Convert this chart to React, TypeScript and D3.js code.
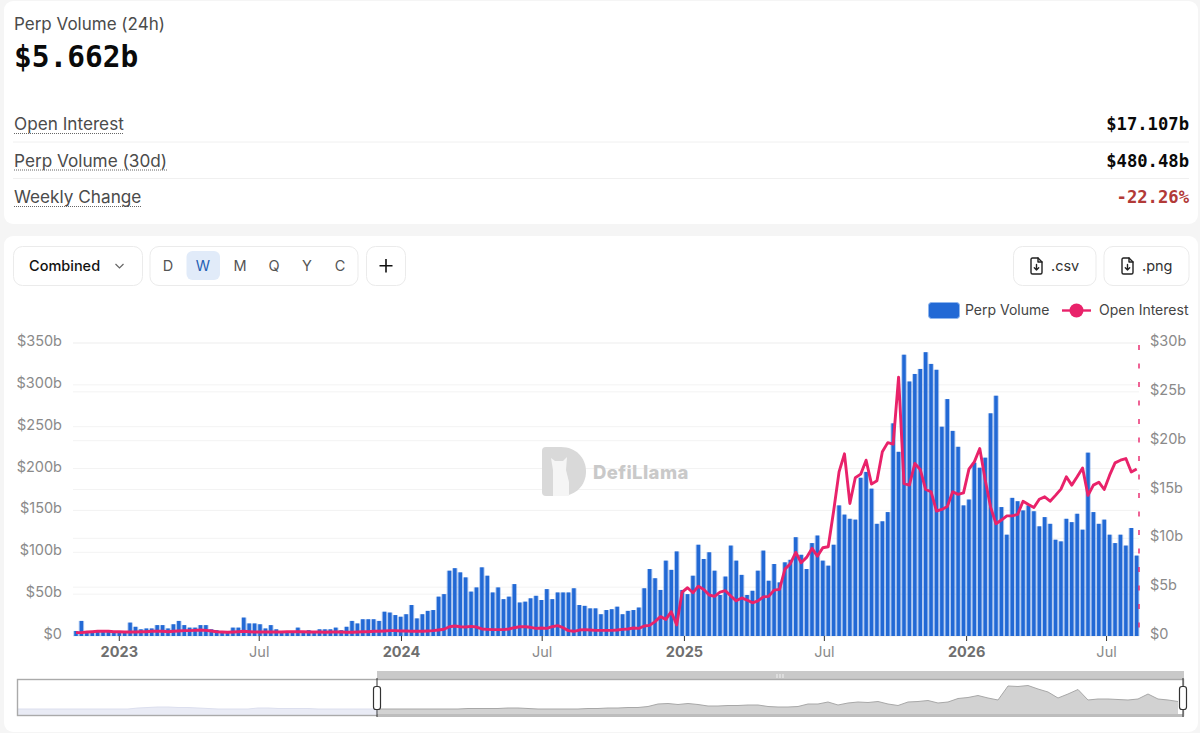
import React from 'react';
import * as d3 from 'd3';

// weekly perp volume in $b
const volumeWeekly = [
  6, 18, 5.5, 6, 6, 6, 7, 5, 5, 5, 16, 11, 8, 9, 9, 13, 13, 9, 14, 18, 13, 10, 10, 13, 13, 8, 7, 6, 5, 10, 10, 22, 15, 15, 14, 9,
  13, 8, 6, 6, 5, 10, 5, 7, 4, 8, 8, 8, 10, 7, 11, 18, 15, 20, 20, 20, 18, 29, 28, 25, 23, 26, 37, 21, 26, 30, 31, 47, 50,
  78, 81, 76, 70, 53, 58, 82, 72, 52, 58, 44, 47, 62, 40, 41, 45, 48, 43, 56, 44, 52, 52, 52, 57, 37, 36, 33, 33, 26, 31,
  32, 35, 26, 30, 31, 34, 57, 80, 69, 55, 90, 79, 101, 55, 50, 72,
  109, 92, 100, 78, 49, 71, 108, 90, 73, 49, 54, 78, 102, 66, 86, 64, 88, 91, 118, 97, 80, 111, 120, 90, 84, 109,
  156, 145, 140, 139, 189, 196, 176, 134, 137, 148, 254, 220, 336, 304, 313, 319, 339, 325, 318, 250, 283, 245, 226, 156, 163, 207, 201,
  213, 266, 287, 154, 121, 165, 161, 150, 156, 149, 131, 142, 134, 115, 113, 140, 136, 146, 127, 219, 148, 134, 139, 121, 111, 121, 108, 129, 96,
];

// open interest in $b, one value per week
const openInterestWeekly = [
  0.35, 0.35, 0.41, 0.44, 0.48, 0.48, 0.48, 0.44, 0.44, 0.41, 0.41, 0.41, 0.44, 0.44, 0.48, 0.48, 0.48, 0.44, 0.48, 0.51, 0.55, 0.55, 0.58, 0.61, 0.58, 0.51, 0.44, 0.41, 0.38, 0.41, 0.44, 0.48, 0.44, 0.41, 0.41, 0.41,
  0.41, 0.41, 0.41, 0.44, 0.44, 0.44, 0.44, 0.41, 0.41, 0.41, 0.38, 0.41, 0.41, 0.41, 0.38, 0.38, 0.41, 0.44, 0.44, 0.48, 0.48, 0.51, 0.55, 0.55, 0.51, 0.51, 0.48, 0.48, 0.48, 0.51, 0.55, 0.62, 0.69,
  0.95, 1.02, 0.95, 0.92, 0.99, 0.92, 0.72, 0.68, 0.65, 0.65, 0.65, 0.72, 0.85, 0.95, 0.95, 0.89, 0.78, 0.82, 0.78, 0.95, 1.06, 0.85, 0.55, 0.48, 0.61, 0.65, 0.61, 0.58, 0.58, 0.58, 0.58, 0.61, 0.68, 0.72, 0.82, 0.78, 1.02, 1.09, 1.47,
  1.98, 1.7, 2.49, 1.13, 4.5, 4.94, 4.43, 5.1, 4.77, 4.2, 4.06, 4.5, 4.64, 4.09, 3.6, 3.9, 3.68, 3.4, 3.6, 4.0, 4.06, 4.7, 4.77, 6.85, 7.4, 8.56, 7.5, 8.05, 8.97, 8.18, 9.04, 9.14, 12.8,
  16.8, 18.65, 13.57, 16.2, 16.57, 18.0, 15.55, 15.9, 18.86, 19.8, 19.64, 26.5, 15.6, 15.45, 17.66, 17.05, 15, 14.77, 12.8, 12.96, 13.26, 14.77, 14.5, 14.66, 17.08, 17.83, 19.2,
  16, 13.2, 11.5, 11.87, 12.3, 12.3, 12.45, 13.8, 13.47, 13.16, 14.0, 14.25, 13.8, 14.4, 15.04, 16.3, 15.45, 16.3, 17.2, 14.4, 15.45, 15.75, 15.0, 16.47, 17.73, 18.0, 18.17, 16.8, 17.1,
];

// data zoom silhouette, evenly spaced samples across the whole slider
const overviewValues = [
  6, 6, 6, 6, 6, 6, 6, 6, 6, 6, 6, 6, 7, 7.5, 8, 8, 7.5, 7.5, 7, 6.5, 6, 6, 6, 6, 7, 7, 6.5, 6.5, 6.5, 6.5, 6, 6, 6, 6, 6, 6, 6,
  6, 6, 6, 6, 6, 6, 6, 6, 6.5, 6.5, 6.5, 6.5, 7, 7, 6.5, 6, 6, 6, 6, 6, 6.5, 6.5, 7, 7, 7.5, 7.5, 8.5, 11, 11.5, 10.5, 11.5, 10.5, 9, 9,
  9.5, 9.5, 10, 10, 8.5, 8, 8, 8.5, 11, 11, 13, 10, 12, 13, 12.5, 13.5, 11, 9.5, 13, 13.5, 14.5, 12, 13, 16.5, 17.5, 19.5, 17, 15,
  29, 28.5, 29.5, 26, 23, 17, 21, 25.5, 15, 16, 16, 15.5, 15, 16, 21, 16, 15, 13.5,
];
const overviewSelectedFrom = 36;

const volumeTicks = [0, 50, 100, 150, 200, 250, 300, 350];
const interestTicks = [0, 5, 10, 15, 20, 25, 30];
const intervals = ['D', 'W', 'M', 'Q', 'Y', 'C'];
const intervalCenters = [168, 203, 240, 274, 307, 340];
const statRows = [
  { label: 'Open Interest', value: '$17.107b', color: '#0a0a0a', labelEnd: 124 },
  { label: 'Perp Volume (30d)', value: '$480.48b', color: '#0a0a0a', labelEnd: 168 },
  { label: 'Weekly Change', value: '-22.26%', color: '#b23a37', labelEnd: 142 },
];

const firstWeek = new Date(Date.UTC(2022, 10, 6));
const weeks = volumeWeekly.map((_, i) => d3.utcWeek.offset(firstWeek, i));
const xTicks = [
  { date: new Date(Date.UTC(2023, 0, 1)), label: '2023', major: true },
  { date: new Date(Date.UTC(2023, 6, 1)), label: 'Jul', major: false },
  { date: new Date(Date.UTC(2024, 0, 1)), label: '2024', major: true },
  { date: new Date(Date.UTC(2024, 6, 1)), label: 'Jul', major: false },
  { date: new Date(Date.UTC(2025, 0, 1)), label: '2025', major: true },
  { date: new Date(Date.UTC(2025, 6, 1)), label: 'Jul', major: false },
  { date: new Date(Date.UTC(2026, 0, 1)), label: '2026', major: true },
  { date: new Date(Date.UTC(2026, 6, 1)), label: 'Jul', major: false },
];

const UI = 'Inter, "Noto Sans", sans-serif';
const MONO = '"DejaVu Sans Mono", "Liberation Mono", monospace';
const PINK = '#e9226a';
const BLUE = '#2269d5';

const FileIcon = ({ x, y }: { x: number; y: number }) => (
  <g transform={`translate(${x},${y})`} fill="none" stroke="#222" strokeWidth="1.4" strokeLinecap="round" strokeLinejoin="round">
    <path d="M2 1.5 Q2 0 3.5 0 H9 L13 4 V14.5 Q13 16 11.5 16 H3.5 Q2 16 2 14.5 Z" />
    <path d="M9 0 V4 H13" />
    <path d="M7.5 6.5 V12 M5.3 9.8 L7.5 12 L9.7 9.8" />
  </g>
);

const Button = ({ x, w }: { x: number; w: number }) => (
  <rect x={x} y={246.5} width={w} height={39} rx={9} fill="#fff" stroke="#ebebeb" />
);

const App = () => {
  const x = d3.scaleUtc().domain([weeks[0], weeks[weeks.length - 1]]).range([76, 1136.7]);
  const yVolume = d3.scaleLinear().domain([0, 350]).range([636, 343]);
  const yInterest = d3.scaleLinear().domain([0, 30]).range([636, 343]);
  const step = x(weeks[1]) - x(weeks[0]);
  const barWidth = 3.5;

  const line = d3.line<number>()
    .x((_, i) => x(weeks[i]))
    .y(d => yInterest(d));

  const xOverview = d3.scaleLinear().domain([0, overviewValues.length - 1]).range([18, 1178]);
  const yOverview = d3.scaleLinear().domain([0, 37]).range([715, 678]);
  const overviewArea = d3.area<{ v: number; i: number }>()
    .x(d => xOverview(d.i))
    .y0(715)
    .y1(d => yOverview(d.v));
  const overviewLine = d3.line<{ v: number; i: number }>()
    .x(d => xOverview(d.i))
    .y(d => yOverview(d.v));
  const overviewPoints = overviewValues.map((v, i) => ({ v, i }));
  const overviewLeft = overviewPoints.slice(0, overviewSelectedFrom + 1);
  const overviewRight = overviewPoints.slice(overviewSelectedFrom);

  return (
    <svg width={1200} height={733} viewBox="0 0 1200 733" style={{ position: 'fixed', left: 0, top: 0, background: '#f5f5f5' }}>
      {/* stat card */}
      <rect x={4} y={1} width={1194} height={223} rx={9} fill="#fff" />
      <text x={14} y={30} fontFamily={UI} fontSize={17} fill="#4b4b4b">Perp Volume (24h)</text>
      <text x={14} y={67} fontFamily={MONO} fontSize={29.5} fontWeight={700} fill="#0a0a0a">$5.662b</text>
      {statRows.map((row, i) => {
        const base = 130 + i * 36.5;
        return (
          <g key={row.label}>
            <text x={14} y={base} fontFamily={UI} fontSize={17.2} fill="#4b4b4b">{row.label}</text>
            <line x1={14} x2={row.labelEnd} y1={base + 3.5} y2={base + 3.5} stroke="#666" strokeWidth={1} strokeDasharray="1 1" />
            <text x={1189} y={base} textAnchor="end" fontFamily={MONO} fontSize={17.2} fontWeight={700} fill={row.color}>{row.value}</text>
            {i < 2 && <line x1={13} x2={1189} y1={base + 12} y2={base + 12} stroke="#f0f0f0" />}
          </g>
        );
      })}

      {/* chart card */}
      <rect x={4} y={236} width={1194} height={496} rx={9} fill="#fff" />
      <Button x={13.5} w={129} />
      <text x={29} y={270.5} fontFamily={UI} fontSize={14.5} fontWeight={500} fill="#111">Combined</text>
      <path d="M115.5 264 L119.5 268 L123.5 264" fill="none" stroke="#666" strokeWidth="1.2" />
      <Button x={150} w={208} />
      <rect x={186.5} y={251} width={33.5} height={29} rx={6} fill="#e1ebf9" />
      {intervals.map((label, i) => (
        <text key={label} x={intervalCenters[i]} y={270.5} textAnchor="middle" fontFamily={UI} fontSize={14.5} fill={label === 'W' ? '#1f5fb4' : '#555'}>{label}</text>
      ))}
      <Button x={366.5} w={39} />
      <path d="M386 259 V272.5 M379.5 265.8 H392.5" stroke="#111" strokeWidth="1.6" />
      <Button x={1013.5} w={82.5} />
      <FileIcon x={1029} y={258} />
      <text x={1051} y={270.5} fontFamily={UI} fontSize={14.5} fill="#333">.csv</text>
      <Button x={1104} w={85} />
      <FileIcon x={1120} y={258} />
      <text x={1142} y={270.5} fontFamily={UI} fontSize={14.5} fill="#333">.png</text>

      {/* legend */}
      <rect x={928.5} y={302.5} width={31} height={16} rx={3} fill={BLUE} stroke="#8fb6ee" />
      <text x={965} y={315} fontFamily={UI} fontSize={14} fill="#444">Perp Volume</text>
      <line x1={1062} x2={1091} y1={310.5} y2={310.5} stroke={PINK} strokeWidth="2.4" />
      <circle cx={1076.5} cy={310.5} r={7} fill={PINK} />
      <text x={1099} y={315} fontFamily={UI} fontSize={14} fill="#444">Open Interest</text>

      {/* grid, both axes draw their own */}
      {volumeTicks.map(t => (
        <line key={`v${t}`} x1={73} x2={1139} y1={yVolume(t)} y2={yVolume(t)} stroke="#f3f3f3" />
      ))}
      {interestTicks.map(t => (
        <line key={`i${t}`} x1={73} x2={1139} y1={yInterest(t)} y2={yInterest(t)} stroke="#f3f3f3" />
      ))}

      {/* watermark */}
      <g>
        <path d="M546 447 H561 C576 447 586 458 586 471.5 C586 485 576 496 561 496 H546 Q542 496 542 492 V451 Q542 447 546 447 Z" fill="#d9d9d9" />
        <path d="M553 496 V470 L551 458 L555 461 H563 L567 457 L566 470 L569 482 V496 Z" fill="#f5f5f5" />
        <text x={593} y={479} fontFamily="Inter, sans-serif" fontSize={18.5} fontWeight={800} letterSpacing={0.4} fill="#c9c9c9">DefiLlama</text>
      </g>

      {/* bars, the pale halo fills the gaps like the screenshot does */}
      <g>
        {volumeWeekly.map((v, i) => (
          <g key={i}>
            <rect x={x(weeks[i]) - step / 2} y={yVolume(v)} width={step} height={yVolume(0) - yVolume(v)} fill={BLUE} fillOpacity={0.34} />
            <rect x={x(weeks[i]) - barWidth / 2} y={yVolume(v)} width={barWidth} height={yVolume(0) - yVolume(v)} fill={BLUE} />
          </g>
        ))}
      </g>
      <path d={line(openInterestWeekly) || ''} fill="none" stroke={PINK} strokeWidth={2.9} strokeLinejoin="round" />
      <line x1={1139} x2={1139} y1={343} y2={636} stroke={PINK} strokeWidth={1.4} strokeDasharray="5 13.5" strokeDashoffset={-2} />

      {/* axes */}
      {volumeTicks.map(t => (
        <text key={t} x={62} y={yVolume(t) + 3} textAnchor="end" fontFamily={UI} fontSize={14.5} fill="#8a8a8a">{`$${t}${t ? 'b' : ''}`}</text>
      ))}
      {interestTicks.map(t => (
        <text key={t} x={1150} y={yInterest(t) + 3} fontFamily={UI} fontSize={14.5} fill="#8a8a8a">{`$${t}${t ? 'b' : ''}`}</text>
      ))}
      {xTicks.map(t => (
        <g key={t.date.toISOString()} transform={`translate(${x(t.date)},0)`}>
          <line y1={636} y2={641} stroke="#333" strokeWidth={1} />
          <text y={657} textAnchor="middle" fontFamily={UI} fontSize={14.5} fontWeight={t.major ? 700 : 400} fill={t.major ? '#6f6f6f' : '#8a8a8a'}>{t.label}</text>
        </g>
      ))}

      {/* data zoom */}
      <rect x={377} y={671} width={807} height={8} fill="#c9c9c9" />
      <path d="M777 674 V678 M780 674 V678 M783 674 V678" stroke="#f0f0f0" strokeWidth={1} />
      <path d={overviewArea(overviewLeft) || ''} fill="#e9ebf5" />
      <path d={overviewLine(overviewLeft) || ''} fill="none" stroke="#dcdfee" />
      <path d={overviewArea(overviewRight) || ''} fill="#d2d2d2" />
      <path d={overviewLine(overviewRight) || ''} fill="none" stroke="#a8a8a8" />
      <rect x={17.5} y={679.5} width={1166} height={36} fill="none" stroke="#aaa" strokeWidth={1.4} />
      <rect x={377} y={714} width={807} height={3} fill="#bdbdbd" />
      {[377, 1183].map(hx => (
        <g key={hx}>
          <line x1={hx} x2={hx} y1={678} y2={717} stroke="#333" />
          <rect x={hx - 3.5} y={686.5} width={7} height={23} rx={2.5} fill="#fff" stroke="#333" strokeWidth={1.2} />
        </g>
      ))}
    </svg>
  );
};

export default App;
